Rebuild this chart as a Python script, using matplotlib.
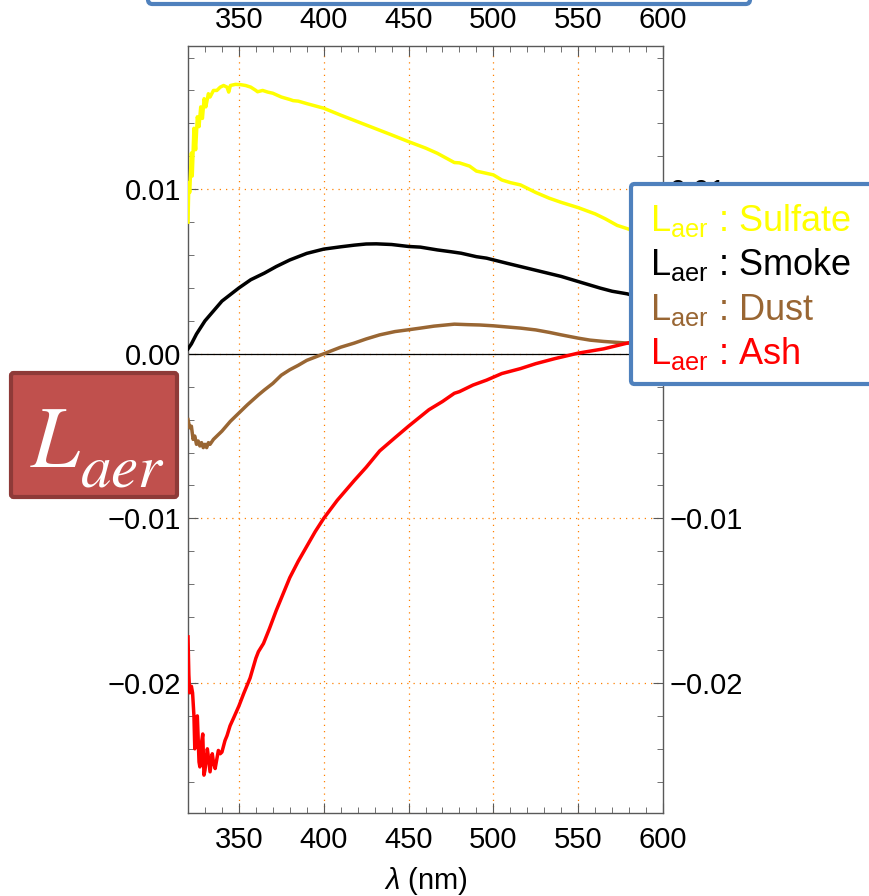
import matplotlib
matplotlib.use("Agg")
import matplotlib.pyplot as plt
from matplotlib.patches import FancyBboxPatch
from matplotlib.ticker import MultipleLocator, FuncFormatter

plt.rcParams["font.family"] = ["Liberation Sans", "DejaVu Sans"]
plt.rcParams["mathtext.fontset"] = "custom"
plt.rcParams["mathtext.rm"] = "Liberation Sans"
plt.rcParams["mathtext.it"] = "Liberation Sans:italic"

# --- data (wavelength in nm) ---
sulfate_x = [320, 320.5, 321, 322, 322.5, 323.5, 324.5, 325.5, 326.5, 327.5, 328.5, 329.5,
             330.5, 332, 333, 335, 337, 339, 341, 343, 344, 345, 348, 351, 354, 357, 360,
             361, 364, 367, 370, 375, 380, 382, 385, 390, 400, 410, 420, 430, 440, 450,
             460, 467, 472, 477, 480, 486, 490, 500, 505, 510, 516, 525, 533, 540, 550,
             560, 566, 573, 579, 590, 600]
sulfate_y = [0.0080, 0.0104, 0.0098, 0.0122, 0.0108, 0.0137, 0.0124, 0.0144, 0.0138, 0.0150,
             0.0143, 0.0155, 0.0150, 0.0158, 0.0156, 0.0160, 0.0160, 0.0162, 0.0163, 0.0162,
             0.0159, 0.0163, 0.01637, 0.01635, 0.0163, 0.0162, 0.0160, 0.01592, 0.0160,
             0.0159, 0.01583, 0.0156, 0.01545, 0.01538, 0.01535, 0.0152, 0.01492, 0.0145,
             0.0141, 0.0137, 0.0133, 0.01289, 0.0125, 0.01218, 0.0119, 0.01162, 0.0116,
             0.0114, 0.0111, 0.01087, 0.01056, 0.0104, 0.01026, 0.0098, 0.00945, 0.0092,
             0.00888, 0.0085, 0.0082, 0.0078, 0.0076, 0.0072, 0.0068]

smoke_x = [320, 322, 325, 330, 335, 340, 345, 350, 357, 365, 372, 380, 390, 400, 410, 418,
           425, 431, 440, 450, 457, 467, 475, 481, 490, 496, 508, 520, 532, 540, 550, 563,
           570, 579, 590, 600]
smoke_y = [0.0003, 0.0006, 0.0012, 0.0020, 0.0026, 0.0032, 0.0036, 0.0040, 0.0045, 0.0049,
           0.0053, 0.0057, 0.0061, 0.00636, 0.0065, 0.0066, 0.00667, 0.00668, 0.00664,
           0.00652, 0.00648, 0.00631, 0.0062, 0.00611, 0.0059, 0.00581, 0.0055, 0.0052,
           0.0049, 0.0047, 0.00439, 0.00399, 0.0038, 0.00364, 0.0033, 0.0029]

dust_x = [320, 321, 322, 323, 324, 325, 326, 327, 328, 329, 330, 331, 332, 333, 335, 337,
          340, 345, 350, 355, 361.5, 365, 370, 375, 380, 385, 390, 395, 400, 410, 418, 425,
          433, 442, 450, 457, 465, 477, 485, 492, 500, 508, 516, 525, 533, 540, 550, 557,
          565, 572, 579, 590, 600]
dust_y = [-0.0040, -0.0045, -0.0044, -0.0052, -0.0050, -0.0055, -0.0053, -0.0056, -0.0054,
          -0.0057, -0.0055, -0.0057, -0.0054, -0.0055, -0.0052, -0.0050, -0.0047, -0.0041,
          -0.0036, -0.0031, -0.0025, -0.0022, -0.0018, -0.0013, -0.00097, -0.0007, -0.0004,
          -0.0002, 0.0, 0.0004, 0.00065, 0.0009, 0.00115, 0.00135, 0.00146, 0.00156,
          0.00168, 0.0018, 0.00177, 0.00175, 0.0017, 0.00163, 0.00156, 0.00145, 0.0013,
          0.00115, 0.00095, 0.00083, 0.00075, 0.0007, 0.00065, 0.00058, 0.0005]

ash_x = [320, 320.5, 321, 322, 322.7, 323.5, 324, 325, 325.5, 326.5, 327, 328, 328.7, 329.4,
         330, 331.4, 332, 333, 334.3, 335, 336, 337.9, 339, 340, 341.8, 343, 344.8, 347, 350,
         353, 356.6, 360, 361.5, 364.5, 368, 372, 376, 380, 385, 390, 395, 400, 408, 418,
         425, 433, 442, 450, 462, 470, 477, 480, 488, 496, 505, 516, 525, 536, 550, 565,
         579, 590, 600]
ash_y = [-0.0172, -0.0195, -0.0206, -0.0202, -0.0206, -0.0220, -0.0240, -0.0222, -0.0220,
         -0.0248, -0.0251, -0.0236, -0.0231, -0.0256, -0.0253, -0.0240, -0.0245, -0.0254,
         -0.0243, -0.0248, -0.0252, -0.0241, -0.0243, -0.0242, -0.0235, -0.0232, -0.0226,
         -0.0221, -0.0214, -0.0206, -0.0197, -0.0185, -0.0181, -0.0176, -0.0167, -0.0156,
         -0.0146, -0.0136, -0.0126, -0.0117, -0.0108, -0.0100, -0.0089, -0.0077, -0.0069,
         -0.0059, -0.0051, -0.0044, -0.0034, -0.0029, -0.0024, -0.0023, -0.0019, -0.0016,
         -0.0012, -0.0009, -0.0006, -0.0003, 0.00004, 0.0003, 0.00065, 0.0009, 0.0011]

names = ["Sulfate", "Smoke", "Dust", "Ash"]
colors = ["#FFFF00", "#000000", "#996633", "#FF0000"]

W, H = 869, 896
fig = plt.figure(figsize=(W / 100, H / 100), dpi=100)
ax = fig.add_axes([188 / W, 1 - 813 / H, (663 - 188) / W, (813 - 46) / H])

for xs, ys, c in zip([sulfate_x, smoke_x, dust_x, ash_x],
                     [sulfate_y, smoke_y, dust_y, ash_y], colors):
    ax.plot(xs, ys, color=c, lw=2.5, zorder=3)

ax.axhline(0, color="black", lw=0.9, zorder=2)
ax.set_xlim(320, 600)
ax.set_ylim(-0.0279, 0.0187)


def yfmt(v, p):
    if abs(v) < 1e-9:
        return "0.00"
    return f"{v:.2f}".replace("-", "\u2212")


ax.xaxis.set_major_locator(MultipleLocator(50))
ax.xaxis.set_minor_locator(MultipleLocator(10))
ax.yaxis.set_major_locator(MultipleLocator(0.01))
ax.yaxis.set_minor_locator(MultipleLocator(0.002))
ax.yaxis.set_major_formatter(FuncFormatter(yfmt))

for v in [350, 400, 450, 500, 550]:
    ax.axvline(v, color="#FF8000", lw=0.9, ls=(0, (1, 4)), zorder=1)
for v in [0.01, 0.0, -0.01, -0.02]:
    ax.axhline(v, color="#FF8000", lw=0.9, ls=(0, (1, 4)), zorder=1)

ax.tick_params(which="both", direction="in", top=True, right=True,
               labeltop=True, labelright=True, color="0.35", labelsize=21)
ax.tick_params(axis="x", which="major", length=7, pad=9)
ax.tick_params(axis="y", which="major", length=7, pad=5)
ax.tick_params(which="minor", length=4)
for s in ax.spines.values():
    s.set_color("0.35")
    s.set_linewidth(1.0)

ax.set_xlabel(r"$\lambda$ (nm)", fontsize=21, labelpad=8)

# the right-hand 0.00 label sits under the legend box in the reference
fig.canvas.draw()
for t in ax.yaxis.get_major_ticks():
    if abs(t.get_loc()) < 1e-9:
        t.label2.set_visible(False)


def fx(px):
    return px / W


def fy(py):
    return 1 - py / H


# top blue box, mostly cut off
fig.add_artist(FancyBboxPatch((fx(148), fy(4)), fx(750) - fx(148), 0.2,
                              boxstyle="round,pad=0,rounding_size=0.005",
                              transform=fig.transFigure, facecolor="white",
                              edgecolor="#4F81BD", lw=3, zorder=5))

# legend box on the right
fig.add_artist(FancyBboxPatch((fx(631), fy(384)), 0.4, fy(184) - fy(384),
                              boxstyle="round,pad=0,rounding_size=0.004",
                              transform=fig.transFigure, facecolor="white",
                              edgecolor="#4F81BD", lw=3, zorder=5))
for i, (name, c) in enumerate(zip(names, colors)):
    fig.text(fx(650), fy(231 + 44.3 * i), r"$\mathrm{L}_{\mathrm{aer}}$ : " + name,
             color=c, fontsize=26, va="baseline", ha="left", zorder=6)

# L_aer badge on the left
fig.add_artist(FancyBboxPatch((fx(11), fy(497)), fx(177) - fx(11), fy(373) - fy(497),
                              boxstyle="round,pad=0,rounding_size=0.003",
                              transform=fig.transFigure, facecolor="#C0504D",
                              edgecolor="#8E3A38", lw=3, zorder=5))
fig.text(fx(30), fy(467), r"$L$", math_fontfamily="stix", color="white",
         fontsize=63, ha="left", va="baseline", zorder=6)
fig.text(fx(80), fy(486), r"$aer$", math_fontfamily="stix", color="white",
         fontsize=44, ha="left", va="baseline", zorder=6)

fig.savefig("out.png", dpi=100)
